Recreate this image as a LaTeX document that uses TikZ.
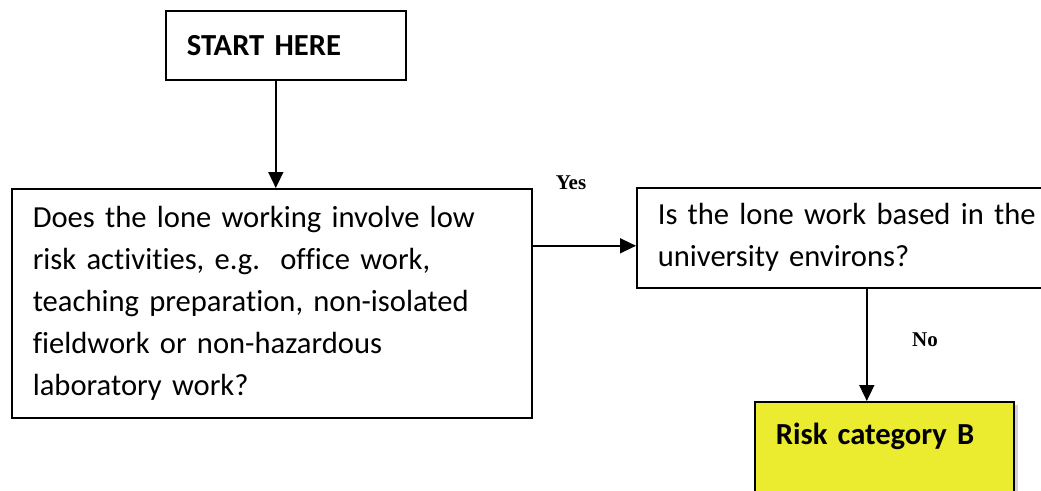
\documentclass[tikz,border=0pt]{standalone}
\usepackage{fontspec}
\setmainfont{Carlito}[Ligatures=NoCommon]
\newfontfamily\lblfont{Liberation Serif}
\usetikzlibrary{positioning, arrows.meta, shadows}
\tikzset{every picture/.style={line width=1.6pt}}
\definecolor{risk-yellow}{RGB}{235,235,48}

\begin{document}
\begin{tikzpicture}
    [x=1pt, y=-1pt,
    box/.style = {rectangle, draw, align=left, anchor=north west,
            inner xsep=21pt, inner ysep=0pt, font=\fontsize{30.6}{42}\selectfont},
    lbl/.style = {font=\lblfont\bfseries\fontsize{21}{24}\selectfont},
    -{Triangle[width=15pt, length=16pt]},
    ]
    \useasboundingbox (0,0) rectangle (1041,490);
    \clip (0,0) rectangle (1041,490);

	\node[box, text width=198pt, minimum height=69pt] (start) at (165,10) {\textbf{START HERE}};
	\node[box, text width=478pt, minimum height=229pt] (q1) at (11,188)
	    {Does the lone working involve low\\
	     risk activities, e.g.\ \ office work,\\
	     teaching preparation, non-isolated\\
	     fieldwork or non-hazardous\\
	     laboratory work?};
	\node[box, text width=408pt, minimum height=100pt] (q2) at (636,187)
	    {Is the lone work based in the\\
	     university environs?};
	\node[box, text width=217pt, inner ysep=21pt, text depth=70pt, fill=risk-yellow,
	    drop shadow={shadow xshift=4pt, shadow yshift=-3pt, opacity=0.35}] (rb) at (754,401)
	    {\textbf{Risk category B}};

	\node[lbl] (yes) at (571,183) {Yes};
	\node[lbl] (no) at (925,340) {No};

    \draw ([xshift=-10pt]start.south) -- ([xshift=-10pt]start.south |- q1.north);
    \draw ([yshift=-8pt]q2.west -| q1.east) -- ([yshift=-8pt]q2.west);
    \draw ([xshift=5pt]q2.south) -- ([xshift=5pt]q2.south |- rb.north);
\end{tikzpicture}
\end{document}
